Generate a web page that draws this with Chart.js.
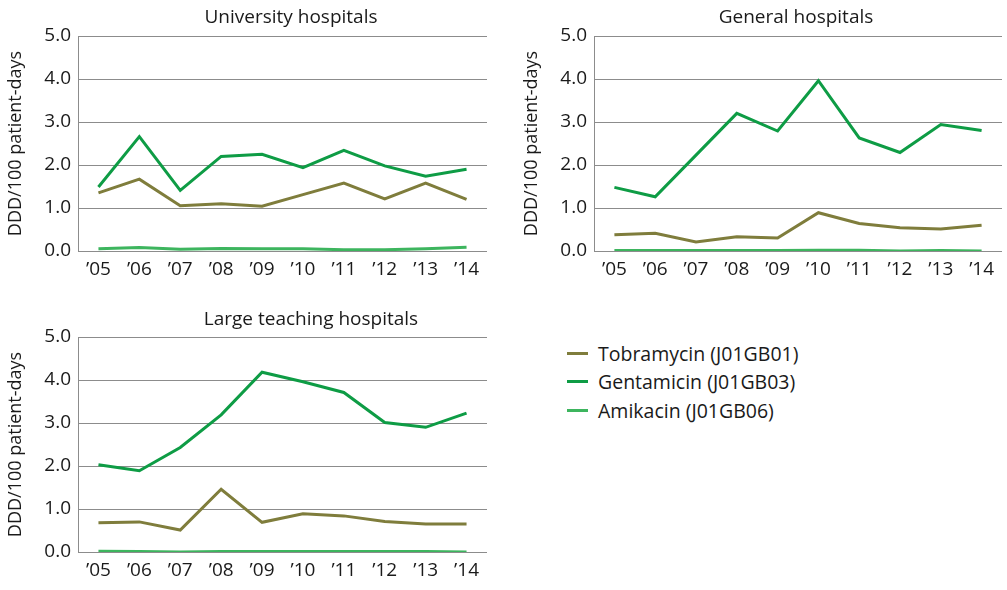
<!DOCTYPE html>
<html>
<head>
<meta charset="utf-8">
<script src="https://cdn.jsdelivr.net/npm/chart.js@4"></script>
<style>
    body { margin: 0; background: #fff; font-family: "Open Sans", sans-serif; }
    .box { position: absolute; }
    .title { position: absolute; width: 400px; text-align: center; font-size: 19px; line-height: 1; color: #1a1a1a; white-space: nowrap; }
    #legend { position: absolute; left: 567px; top: 339px; font-size: 19.5px; color: #1a1a1a; }
    .item { display: flex; align-items: center; height: 28.5px; }
    .swatch { width: 21px; height: 3px; margin-right: 10px; }
</style>
</head>
<body>
<div class="box" style="left:0;top:0;width:500px;height:290px"><canvas id="uniChart"></canvas></div>
<div class="box" style="left:516px;top:0;width:491px;height:290px"><canvas id="genChart"></canvas></div>
<div class="box" style="left:0;top:300px;width:500px;height:290px"><canvas id="largeChart"></canvas></div>
<div class="title" style="left:91px;top:7px">University hospitals</div>
<div class="title" style="left:596px;top:7px">General hospitals</div>
<div class="title" style="left:111px;top:309px">Large teaching hospitals</div>
<div id="legend"></div>
<script>
const years = ['\u201905', '\u201906', '\u201907', '\u201908', '\u201909', '\u201910', '\u201911', '\u201912', '\u201913', '\u201914'];
const seriesNames = ['Tobramycin (J01GB01)', 'Gentamicin (J01GB03)', 'Amikacin (J01GB06)'];
const seriesColors = ['#7f7d3c', '#0e9c45', '#3db55e'];

// University hospitals
const uniTobra = [1.35, 1.67, 1.05, 1.10, 1.04, 1.31, 1.58, 1.21, 1.58, 1.20];
const uniGenta = [1.49, 2.66, 1.41, 2.20, 2.25, 1.94, 2.34, 1.98, 1.74, 1.90];
const uniAmika = [0.05, 0.08, 0.04, 0.06, 0.05, 0.05, 0.03, 0.03, 0.05, 0.09];

// General hospitals
const genTobra = [0.38, 0.41, 0.21, 0.33, 0.30, 0.89, 0.64, 0.54, 0.51, 0.60];
const genGenta = [1.48, 1.26, 2.23, 3.20, 2.79, 3.96, 2.63, 2.29, 2.94, 2.80];
const genAmika = [0.01, 0.01, 0.01, 0.01, 0.01, 0.02, 0.02, 0.00, 0.01, 0.00];

// Large teaching hospitals
const largeTobra = [0.68, 0.70, 0.51, 1.46, 0.69, 0.89, 0.84, 0.71, 0.65, 0.65];
const largeGenta = [2.03, 1.89, 2.43, 3.19, 4.18, 3.96, 3.71, 3.01, 2.90, 3.23];
const largeAmika = [0.02, 0.01, 0.00, 0.01, 0.01, 0.01, 0.01, 0.01, 0.01, 0.00];

const yTicks = [0, 1, 2, 3, 4, 5];
const yTitle = 'DDD/100 patient-days';

Chart.defaults.font.family = '"Open Sans", sans-serif';
Chart.defaults.color = '#1a1a1a';

function makeChart(id, data, padTop, xHeight, padRight) {
    const datasets = data.map((vals, i) => ({
        label: seriesNames[i],
        data: vals,
        borderColor: seriesColors[i],
        backgroundColor: seriesColors[i],
        borderWidth: 3,
        pointRadius: 0,
        tension: 0
    })).reverse();

    return new Chart(document.getElementById(id), {
        type: 'line',
        data: { labels: years, datasets: datasets },
        options: {
            responsive: true,
            maintainAspectRatio: false,
            animation: false,
            layout: { padding: { left: 5, right: padRight, top: padTop, bottom: 0 } },
            plugins: {
                legend: { display: false },
                tooltip: { enabled: false }
            },
            scales: {
                x: {
                    offset: true,
                    grid: { display: false, drawTicks: false },
                    border: { display: false },
                    ticks: { font: { size: 19 }, padding: 7, maxRotation: 0, autoSkip: false },
                    afterFit: (s) => { s.height = xHeight; }
                },
                y: {
                    min: 0,
                    max: 5,
                    afterBuildTicks: (s) => { s.ticks = yTicks.map(v => ({ value: v })); },
                    grid: { color: '#8c8c8c', lineWidth: 1, drawTicks: false },
                    border: { display: true, color: '#8c8c8c', width: 1 },
                    ticks: {
                        font: { size: 19 },
                        padding: 7,
                        callback: (v) => Number(v).toFixed(1)
                    },
                    title: { display: true, text: yTitle, font: { size: 18 }, padding: 0 },
                    afterFit: (s) => { s.width = 73; }
                }
            }
        }
    });
}

makeChart('uniChart', [uniTobra, uniGenta, uniAmika], 36, 39, 13);
makeChart('genChart', [genTobra, genGenta, genAmika], 36, 39, 5);
makeChart('largeChart', [largeTobra, largeGenta, largeAmika], 37, 38, 13);

// legend
const legend = document.getElementById('legend');
seriesNames.forEach((name, i) => {
    const row = document.createElement('div');
    row.className = 'item';
    row.innerHTML = '<span class="swatch" style="background:' + seriesColors[i] + '"></span><span>' + name + '</span>';
    legend.appendChild(row);
});
</script>
</body>
</html>
